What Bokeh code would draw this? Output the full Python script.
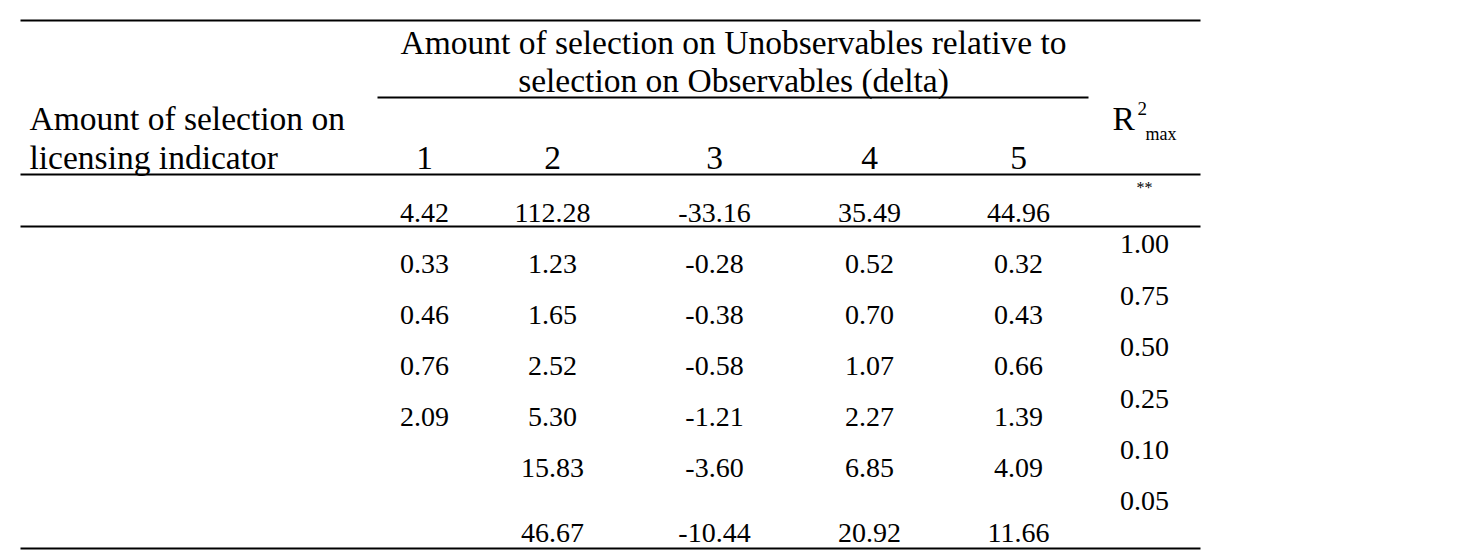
from bokeh.plotting import figure
from bokeh.models import Range1d, ColumnDataSource
from bokeh.core.properties import value
from bokeh.embed import file_html
from bokeh.resources import INLINE

# ---- data ----
header_top = ["Amount of selection on Unobservables relative to",
              "selection on Observables (delta)"]
row_label = ["Amount of selection on", "licensing indicator"]
deltas = ["1", "2", "3", "4", "5"]
first_row = ["4.42", "112.28", "-33.16", "35.49", "44.96"]
col1 = ["0.33", "0.46", "0.76", "2.09", "", ""]
col2 = ["1.23", "1.65", "2.52", "5.30", "15.83", "46.67"]
col3 = ["-0.28", "-0.38", "-0.58", "-1.21", "-3.60", "-10.44"]
col4 = ["0.52", "0.70", "1.07", "2.27", "6.85", "20.92"]
col5 = ["0.32", "0.43", "0.66", "1.39", "4.09", "11.66"]
r2max = ["1.00", "0.75", "0.50", "0.25", "0.10", "0.05"]

# ---- layout (pixel coordinates of the picture) ----
W, H = 1446, 551
col_x = [424, 552, 714, 869, 1018]
r2_x = 1144
row_y = [263, 314, 365, 416, 467, 532]
r2_y = [243, 295, 346, 398, 449, 500]

p = figure(width=W, height=H, output_backend="svg", toolbar_location=None,
           x_range=Range1d(0, W), y_range=Range1d(H, 0),
           min_border=0, outline_line_color=None)
p.axis.visible = False
p.grid.visible = False
p.background_fill_color = "white"
p.border_fill_color = "white"

HF = value("Liberation Serif")
NF = value("Liberation Serif")
col = "black"
HS = "33.5px"
NS = "28px"

# rules
p.segment(x0=[20, 377, 20, 20, 20], y0=[20, 97, 174, 226, 548],
          x1=[1200, 1088, 1200, 1200, 1200], y1=[20, 97, 174, 226, 548],
          line_color="black", line_width=2)

# spanning header
p.text(x=[733, 733], y=[42, 80], text=header_top, text_font=HF,
       text_font_size=HS, text_align="center", text_baseline="middle",
       text_color=col)
# row label
p.text(x=[29, 29], y=[118, 157], text=row_label, text_font=HF,
       text_font_size=HS, text_align="left", text_baseline="middle",
       text_color=col)
# delta headers
p.text(x=col_x, y=[157] * 5, text=deltas, text_font=HF,
       text_font_size=HS, text_align="center", text_baseline="middle",
       text_color=col)
# R2 max header
p.text(x=[1112], y=[118], text=["R"], text_font=HF, text_font_size=HS,
       text_align="left", text_baseline="middle", text_color=col)
p.text(x=[1137], y=[108], text=["2"], text_font=NF, text_font_size="19px",
       text_align="left", text_baseline="middle", text_color=col)
p.text(x=[1145], y=[133], text=["max"], text_font=NF, text_font_size="18px",
       text_align="left", text_baseline="middle", text_color=col)
p.text(x=[r2_x], y=[187], text=["**"], text_font=NF, text_font_size="16px",
       text_align="center", text_baseline="middle", text_color=col)

# first row
p.text(x=col_x, y=[212] * 5, text=first_row, text_font=NF,
       text_font_size=NS, text_align="center", text_baseline="middle",
       text_color=col)

# body
xs, ys, ts = [], [], []
for cx, column in zip(col_x, [col1, col2, col3, col4, col5]):
    for ry, t in zip(row_y, column):
        if t:
            xs.append(cx); ys.append(ry); ts.append(t)
src = ColumnDataSource(dict(x=xs, y=ys, t=ts))
p.text(x="x", y="y", text="t", source=src, text_font=NF,
       text_font_size=NS, text_align="center", text_baseline="middle",
       text_color=col)
p.text(x=[r2_x] * len(r2max), y=r2_y, text=r2max, text_font=NF,
       text_font_size=NS, text_align="center", text_baseline="middle",
       text_color=col)

open("out.html", "w").write(file_html(p, INLINE))
